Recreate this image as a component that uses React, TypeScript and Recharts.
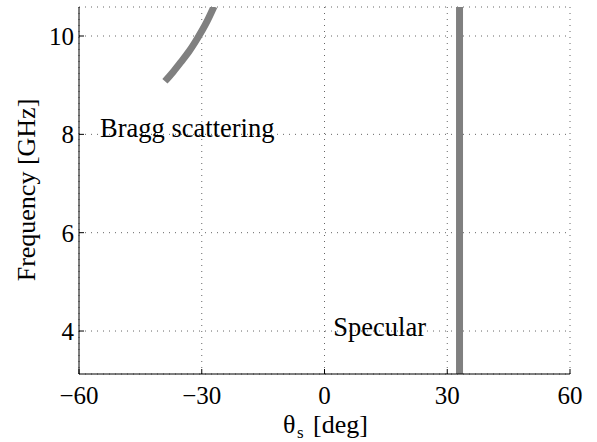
import { CartesianGrid, Line, LineChart, ReferenceDot, XAxis, YAxis } from "recharts";

// scattering angle (deg) vs frequency (GHz)
const angleTicks = [-60, -30, 0, 30, 60];
const freqTicks = [4, 6, 8, 10];
const angleDomain: [number, number] = [-60, 60];
const freqDomain: [number, number] = [3.126, 10.59];

const braggAngle = [-39.0, -37.0, -35.0, -33.0, -31.0, -29.0, -27.0];
const braggFreq = [9.08, 9.27, 9.48, 9.7, 9.96, 10.25, 10.6];

const specularAngle = [33.0, 33.0];
const specularFreq = [3.126, 10.59];

const annotations = [
  { text: "Bragg scattering", x: -54.85, y: 7.95 },
  { text: "Specular", x: 2.15, y: 3.9 },
];

const SERIF = "Liberation Serif";
const GRAY = "#808080";

const bragg = braggAngle.map((x, i) => ({ x, y: braggFreq[i] }));
const specular = specularAngle.map((x, i) => ({ x, y: specularFreq[i] }));

const fmtAngle = (v: number) => (v < 0 ? `\u2212${Math.abs(v)}` : `${v}`);

const tickStyle = { fill: "#000", fontSize: 25, fontFamily: SERIF };

function XLabel() {
  return (
    <text fontFamily={SERIF} fontSize={26} fill="#000">
      <tspan x={283} y={433}>θ</tspan>
      <tspan x={297} y={438} fontSize={17}>s</tspan>
      <tspan x={313} y={433}>[deg]</tspan>
    </text>
  );
}

function YLabel() {
  return (
    <text
      x={0}
      y={0}
      transform="translate(35, 190) rotate(-90)"
      textAnchor="middle"
      fontFamily={SERIF}
      fontSize={26}
      fill="#000"
    >
      Frequency [GHz]
    </text>
  );
}

export default function App() {
  return (
    <div style={{ position: "absolute", left: 0, top: 0, background: "#fff" }}>
      <LineChart
        width={597}
        height={442}
        margin={{ top: 7, right: 27, bottom: 0, left: 19 }}
      >
        <CartesianGrid stroke="#666" strokeDasharray="1 5" />
        <XAxis
          type="number"
          dataKey="x"
          domain={angleDomain}
          ticks={angleTicks}
          allowDataOverflow
          height={68}
          tickFormatter={fmtAngle}
          tick={tickStyle}
          tickSize={-5}
          tickMargin={17}
          axisLine={{ stroke: "#000" }}
          tickLine={{ stroke: "#000" }}
          label={{ content: () => <XLabel /> }}
        />
        <XAxis
          xAxisId="top"
          orientation="top"
          type="number"
          domain={angleDomain}
          ticks={angleTicks}
          allowDataOverflow
          height={0}
          tick={false}
          tickSize={-5}
          axisLine={{ stroke: "#000" }}
          tickLine={{ stroke: "#000" }}
        />
        <YAxis
          type="number"
          domain={freqDomain}
          ticks={freqTicks}
          allowDataOverflow
          width={60}
          tick={tickStyle}
          tickSize={-5}
          tickMargin={10}
          axisLine={{ stroke: "#000" }}
          tickLine={{ stroke: "#000" }}
          label={{ content: () => <YLabel /> }}
        />
        <YAxis
          yAxisId="right"
          orientation="right"
          type="number"
          domain={freqDomain}
          ticks={freqTicks}
          allowDataOverflow
          width={0}
          tick={false}
          tickSize={-5}
          axisLine={{ stroke: "#000" }}
          tickLine={{ stroke: "#000" }}
        />
        <Line
          data={bragg}
          dataKey="y"
          type="natural"
          stroke={GRAY}
          strokeWidth={7}
          dot={false}
          isAnimationActive={false}
        />
        <Line
          data={specular}
          dataKey="y"
          type="linear"
          stroke={GRAY}
          strokeWidth={7}
          dot={false}
          isAnimationActive={false}
        />
        {annotations.map((a) => (
          <ReferenceDot
            key={a.text}
            x={a.x}
            y={a.y}
            r={0}
            shape={(p: any) => (
              <text x={p.cx} y={p.cy} fontFamily={SERIF} fontSize={26.5} fill="#000">
                {a.text}
              </text>
            )}
          />
        ))}
      </LineChart>
    </div>
  );
}
